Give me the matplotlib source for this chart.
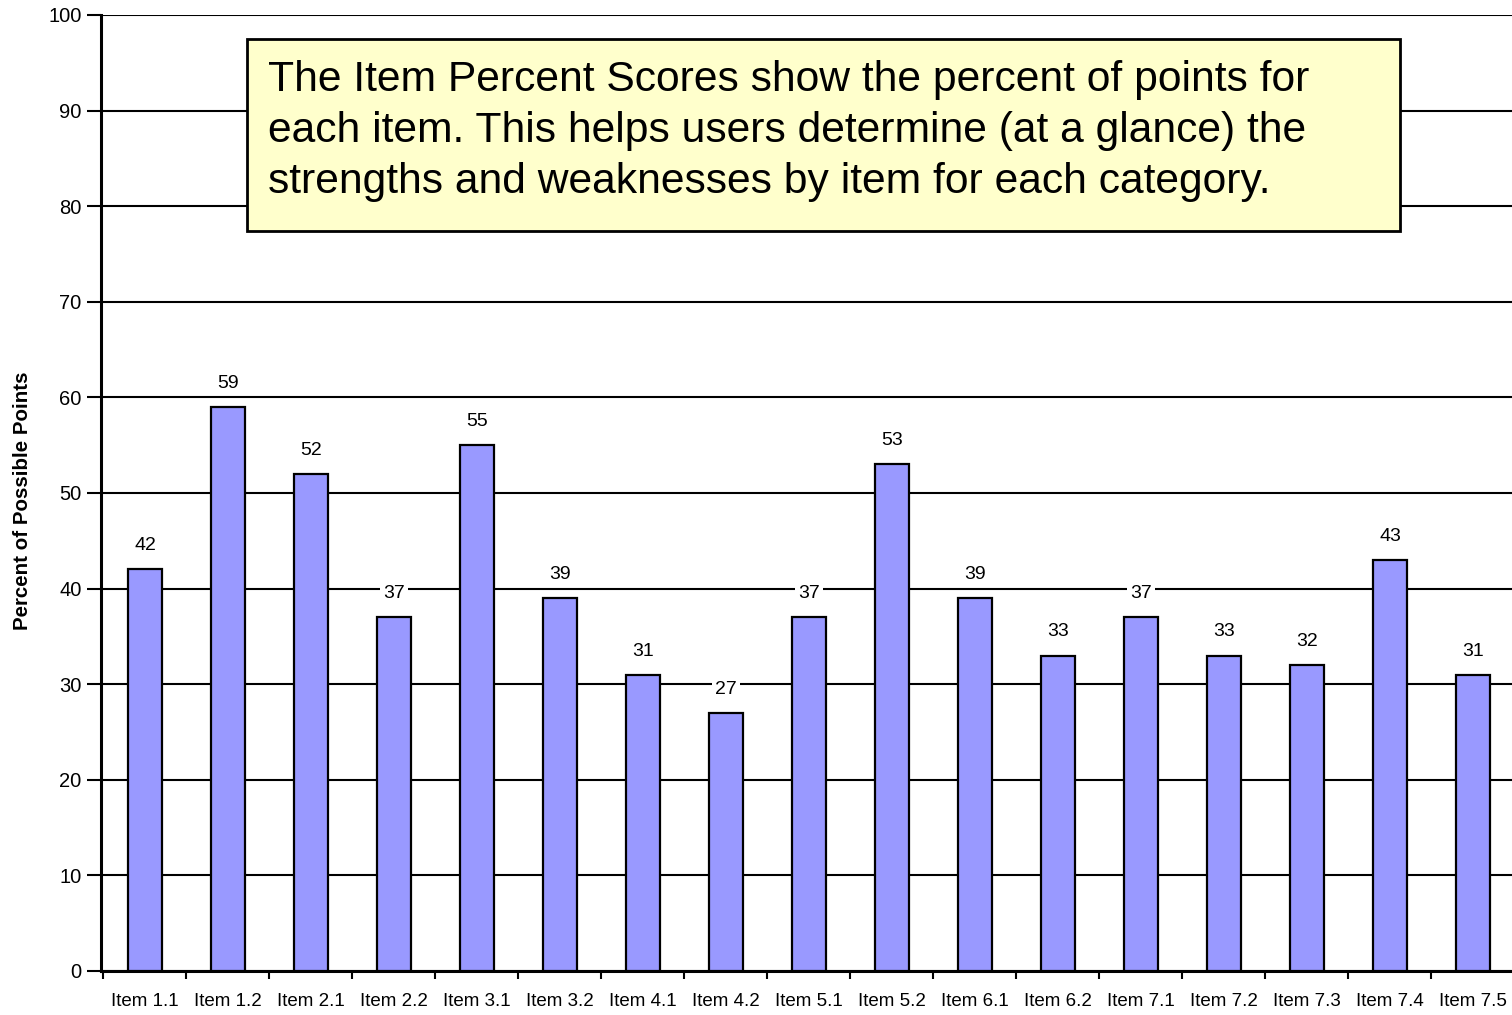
import matplotlib
matplotlib.use("Agg")
import matplotlib.pyplot as plt
from matplotlib.patches import Rectangle
from matplotlib.ticker import FixedLocator

# ─── Data ────────────────────────────────────────────────────────────────────

items = ["Item 1.1", "Item 1.2", "Item 2.1", "Item 2.2", "Item 3.1", "Item 3.2",
         "Item 4.1", "Item 4.2", "Item 5.1", "Item 5.2", "Item 6.1", "Item 6.2",
         "Item 7.1", "Item 7.2", "Item 7.3", "Item 7.4", "Item 7.5"]
scores = [42, 59, 52, 37, 55, 39, 31, 27, 37, 53, 39, 33, 37, 33, 32, 43, 31]

note = ("The Item Percent Scores show the percent of points for\n"
        "each item. This helps users determine (at a glance) the\n"
        "strengths and weaknesses by item for each category.")

# ─── Style ───────────────────────────────────────────────────────────────────

plt.rcParams.update({
    "font.family": ["Liberation Sans", "DejaVu Sans"],
    "font.size": 13,
})

BAR = "#9999ff"

fig = plt.figure(figsize=(15.12, 10.15), dpi=100)
ax = fig.add_axes([101 / 1512, 44 / 1015, 1411 / 1512, 956 / 1015])

x = list(range(len(items)))
ax.bar(x, scores, width=0.41, color=BAR, edgecolor="black", linewidth=1.6, zorder=3)

for xi, v in zip(x, scores):
    ax.annotate(str(v), (xi, v), xytext=(0, 17), textcoords="offset points",
                ha="center", va="center", fontsize=14, zorder=4,
                bbox=dict(boxstyle="square,pad=0.15", facecolor="white", edgecolor="none"))

ax.set_xlim(-0.53, len(items) - 0.53)
ax.set_ylim(0, 100)
ax.set_yticks(range(0, 101, 10))
ax.yaxis.grid(True, color="black", linewidth=1.5)
ax.set_axisbelow(True)

ax.set_xticks(x)
ax.set_xticklabels(items, fontsize=13.5)
ax.tick_params(axis="x", which="major", length=0, pad=16)
ax.xaxis.set_minor_locator(FixedLocator([i + 0.5 for i in range(-1, len(items))]))
ax.tick_params(axis="x", which="minor", length=6, width=1.5, direction="out")
ax.tick_params(axis="y", length=10, width=1.5, direction="out", labelsize=14.5, pad=4)

ax.set_ylabel("Percent of Possible Points", fontsize=14.8, fontweight="bold", labelpad=12)
ax.yaxis.label.set_y(0.4916)

for side in ["top", "right"]:
    ax.spines[side].set_visible(False)
ax.spines["left"].set_linewidth(2.2)
ax.spines["bottom"].set_linewidth(2.2)

# note box
fig.patches.append(Rectangle((247 / 1512, 1 - 231 / 1015), 1153 / 1512, 192 / 1015,
                             transform=fig.transFigure, facecolor="#ffffcc",
                             edgecolor="black", linewidth=2, zorder=5))
fig.text(268 / 1512, 1 - 60 / 1015, note, fontsize=30.7, ha="left", va="top",
         linespacing=1.36, zorder=6)

fig.savefig("out.png", dpi=100)
